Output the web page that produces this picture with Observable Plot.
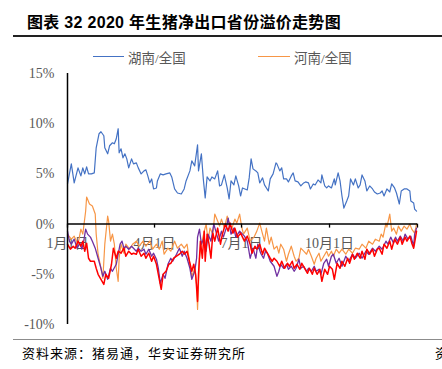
<!DOCTYPE html>
<html><head><meta charset="utf-8">
<script src="https://cdn.jsdelivr.net/npm/d3@7"></script>
<script src="https://cdn.jsdelivr.net/npm/@observablehq/plot@0.6"></script>
<style>
body{margin:0;background:#fff;}
#wrap{position:relative;width:442px;height:369px;overflow:hidden;font-family:"Noto Sans CJK SC",sans-serif;}
#chart{position:absolute;left:0;top:0;}
#title{position:absolute;left:27px;top:9px;font-size:16px;font-weight:bold;color:#000;white-space:nowrap;font-family:"Liberation Sans","Noto Sans CJK SC",sans-serif;letter-spacing:0.3px;}
#rule1{position:absolute;left:13px;top:35px;width:429px;height:1.5px;background:#222;}
#rule2{position:absolute;left:13px;top:339px;width:429px;height:1px;background:#8c8c8c;}
#source{position:absolute;left:22px;top:343px;font-size:13px;color:#000;white-space:nowrap;letter-spacing:1px;}
#cut{position:absolute;left:435px;top:343px;font-size:13px;color:#000;}
.legline{position:absolute;height:1.6px;top:55.5px;}
.legtxt{position:absolute;top:47px;font-size:13.5px;color:#595959;white-space:nowrap;font-family:"Liberation Serif","Noto Sans CJK SC",serif;}
</style>
</head><body>
<div id="wrap">
  <div id="chart"></div>
  <div id="title">图表 32 2020 年生猪净出口省份溢价走势图</div>
  <div id="rule1"></div>
  <div class="legline" style="left:93px;width:31px;background:#4472C4"></div>
  <div class="legtxt" style="left:128px">湖南/全国</div>
  <div class="legline" style="left:258px;width:32px;background:#F79646"></div>
  <div class="legtxt" style="left:294px">河南/全国</div>
  <div id="rule2"></div>
  <div id="source">资料来源：猪易通，华安证券研究所</div>
  <div id="cut">资</div>
</div>
<script>
// Day-of-year (2020) and premium in %
const seriesNames = ["湖南/全国", "河南/全国", "省份3/全国", "省份4/全国"];
const seriesColors = ["#4472C4", "#F79646", "#7030A0", "#FF0000"];
const yTicks = [-10, -5, 0, 5, 10, 15];
const xTickDates = ["2020-01-01", "2020-04-01", "2020-07-01", "2020-10-01", "2021-01-01"];
const xTickLabels = ["1月1日", "4月1日", "7月1日", "10月1日", ""];

const hunan = [[0,4.0],[4,6.0],[7,4.1],[11,5.6],[14,4.8],[16,5.6],[18,5.0],[20,5.7],[22,5.0],[25,5.0],[28,5.1],[30,7.6],[33,9.0],[35,9.2],[38,8.8],[39,7.6],[42,7.0],[44,7.8],[47,8.1],[49,8.0],[51,8.5],[53,9.5],[54,7.1],[56,7.5],[58,6.6],[60,7.0],[62,6.5],[64,5.6],[67,6.5],[69,6.0],[72,6.1],[74,5.6],[77,5.0],[80,5.3],[82,5.4],[84,4.8],[86,4.1],[88,4.5],[90,3.5],[93,3.6],[94,4.3],[97,5.0],[100,4.9],[103,5.0],[107,5.1],[109,4.7],[112,3.5],[115,3.1],[119,3.0],[122,3.5],[124,4.3],[128,5.3],[130,6.3],[133,5.8],[136,7.9],[137,5.3],[140,7.0],[142,4.5],[144,2.6],[146,4.7],[149,4.3],[151,4.7],[154,4.5],[157,5.3],[159,3.8],[161,3.9],[164,4.9],[167,3.6],[169,2.5],[171,4.3],[174,3.9],[176,4.8],[179,3.8],[181,2.8],[183,3.6],[188,3.4],[190,4.6],[192,6.5],[194,5.5],[197,5.3],[199,5.1],[201,4.1],[204,4.6],[206,3.9],[210,3.3],[212,4.5],[215,5.0],[218,6.1],[219,6.0],[222,5.3],[224,5.6],[226,4.5],[229,4.5],[231,4.2],[234,4.8],[236,5.1],[238,4.3],[241,4.2],[244,3.8],[247,4.1],[249,4.2],[252,4.1],[254,3.5],[257,4.0],[259,3.9],[262,4.4],[265,4.1],[266,4.9],[269,3.8],[271,3.6],[273,3.8],[276,3.6],[279,4.5],[280,3.9],[283,5.1],[285,4.3],[287,2.8],[289,1.6],[292,2.3],[294,2.8],[296,4.5],[299,3.9],[301,4.5],[304,3.6],[306,3.9],[308,4.9],[311,4.3],[313,3.3],[316,3.8],[319,3.5],[321,3.2],[324,3.0],[327,3.1],[329,3.3],[331,2.8],[334,3.5],[337,3.2],[339,4.0],[342,3.6],[344,3.1],[347,2.0],[349,3.3],[352,3.5],[355,3.5],[358,3.3],[359,2.3],[362,2.1],[363,1.5],[365,1.3]];

const henan = [[0,-1.0],[4,-1.5],[7,-1.2],[11,-2.0],[14,-0.5],[16,-1.0],[19,1.3],[20,2.7],[23,2.0],[26,1.8],[29,1.0],[30,-1.0],[32,-3.0],[35,-4.4],[37,-5.4],[39,-2.0],[42,0.8],[43,0.3],[45,-1.7],[47,-1.0],[49,-2.0],[51,-4.4],[53,-5.7],[54,-3.4],[56,-2.0],[59,-2.9],[61,-2.0],[65,-2.5],[68,-2.0],[72,-1.7],[75,-2.2],[79,-1.7],[82,-2.2],[86,-1.7],[89,-2.5],[93,-2.0],[96,-2.5],[99,-1.7],[101,-3.0],[105,-2.4],[108,-2.7],[112,-1.7],[115,-2.4],[119,-2.0],[122,-2.4],[125,-2.0],[128,-4.0],[130,-5.2],[133,-4.4],[135,-6.0],[136,-8.5],[138,-3.4],[140,-2.0],[143,-0.7],[145,0],[147,-1.7],[149,-0.4],[152,-1.0],[154,1.0],[157,0.3],[159,-0.2],[161,0.5],[164,-0.4],[167,0.8],[169,0.1],[172,-0.4],[175,0.5],[177,0.1],[180,1.0],[182,-0.2],[184,-1.0],[188,-0.4],[191,-1.7],[195,-1.3],[198,-0.7],[201,0.1],[204,-1.0],[206,-1.7],[208,-0.4],[211,-2.0],[213,-1.3],[216,-2.5],[219,-2.2],[221,-2.9],[223,-2.0],[226,-2.5],[229,-3.7],[231,-3.0],[234,-2.2],[237,-3.2],[239,-3.7],[242,-3.4],[244,-2.4],[247,-2.7],[250,-3.0],[252,-2.5],[255,-3.2],[258,-4.0],[260,-3.4],[263,-2.9],[265,-3.7],[268,-3.2],[271,-2.7],[273,-3.2],[276,-2.7],[278,-3.2],[281,-2.5],[284,-2.9],[287,-2.5],[291,-3.0],[294,-2.5],[298,-2.9],[301,-2.4],[305,-2.5],[308,-2.0],[312,-2.4],[315,-1.7],[319,-2.0],[322,-1.5],[326,-1.7],[328,-1.0],[330,-1.3],[333,0.1],[334,-0.3],[337,1.0],[339,-0.7],[341,-0.4],[344,-1.0],[346,-0.2],[349,-0.7],[352,-0.2],[355,-0.5],[358,0],[360,-0.5],[363,-0.9],[365,0]];

const purple = [[0,-0.7],[2,-1.7],[4,-2.0],[7,-1.5],[10,-2.4],[13,-1.9],[15,-2.5],[17,-1.7],[19,-0.5],[21,-1.0],[24,-1.3],[26,-1.7],[29,-2.4],[32,-3.4],[35,-4.4],[37,-5.2],[39,-4.7],[42,-5.5],[45,-4.4],[47,-4.7],[51,-4.0],[53,-3.0],[55,-2.0],[57,-1.7],[59,-2.4],[61,-2.2],[64,-2.5],[67,-2.2],[69,-2.4],[72,-2.7],[74,-2.4],[77,-2.7],[80,-2.5],[82,-3.0],[85,-2.5],[88,-3.2],[90,-2.9],[93,-3.5],[95,-4.4],[97,-5.9],[100,-5.0],[102,-5.4],[105,-4.0],[108,-3.4],[110,-3.7],[114,-3.0],[117,-2.4],[120,-3.2],[122,-2.7],[125,-3.4],[128,-4.4],[130,-5.5],[133,-4.7],[135,-3.4],[136,-1.3],[138,-0.5],[140,-2.0],[143,-1.3],[145,-2.7],[147,-1.0],[150,-1.7],[153,0],[156,-1.0],[158,-1.7],[161,-0.7],[163,-1.3],[166,-0.4],[168,0.6],[171,-1.0],[174,-0.4],[176,-1.3],[180,-0.7],[183,-1.0],[185,-1.2],[188,-1.7],[191,-3.4],[194,-2.4],[197,-3.4],[199,-2.0],[202,-2.9],[205,-3.4],[207,-2.7],[209,-2.9],[212,-3.7],[216,-4.2],[219,-5.2],[221,-4.7],[223,-4.0],[226,-4.4],[229,-4.0],[231,-4.5],[234,-4.2],[237,-4.7],[239,-4.4],[242,-3.5],[244,-4.4],[247,-4.2],[250,-4.7],[252,-4.4],[255,-4.7],[258,-4.2],[260,-4.7],[263,-4.5],[265,-5.0],[268,-3.9],[271,-3.5],[273,-4.2],[276,-3.2],[278,-3.0],[281,-3.9],[284,-3.4],[287,-4.2],[291,-3.2],[294,-3.7],[298,-3.0],[301,-3.4],[305,-2.9],[308,-3.4],[312,-2.7],[315,-3.0],[319,-2.4],[322,-2.7],[326,-2.2],[329,-2.5],[333,-1.7],[335,-2.0],[338,-1.3],[341,-1.9],[343,-1.3],[345,-1.7],[348,-1.2],[351,-1.7],[353,-1.0],[356,-1.5],[359,-1.2],[362,-2.2],[363,-1.0],[365,-0.4]];

const red = [[0,-2.0],[3,-2.5],[6,-2.2],[8,-2.4],[11,-1.7],[14,-2.2],[16,-1.7],[18,-2.7],[20,-1.9],[22,-3.4],[24,-3.7],[28,-3.7],[30,-4.4],[32,-5.0],[35,-5.5],[38,-6.0],[40,-5.0],[43,-5.4],[46,-4.0],[48,-2.4],[51,-3.4],[53,-2.7],[56,-2.9],[59,-2.4],[61,-3.2],[64,-2.7],[67,-3.0],[69,-2.9],[72,-3.0],[74,-2.5],[77,-3.2],[80,-2.9],[82,-3.4],[85,-2.9],[88,-3.7],[90,-3.2],[93,-4.0],[95,-5.0],[98,-6.5],[100,-5.0],[103,-4.7],[106,-4.0],[108,-3.9],[111,-3.4],[114,-3.2],[117,-3.0],[120,-2.7],[122,-3.0],[125,-2.7],[128,-3.9],[130,-4.7],[132,-4.0],[134,-5.0],[136,-7.7],[137,-5.0],[139,-1.7],[141,-3.4],[143,-0.7],[144,-3.7],[146,-1.0],[148,-2.0],[150,-3.4],[152,-0.9],[154,-1.7],[157,-0.4],[160,-2.0],[162,-1.0],[165,0],[168,-0.7],[170,0.1],[173,-0.9],[175,-0.4],[178,-1.3],[181,-0.9],[183,-1.3],[185,-1.7],[188,-1.2],[191,-2.0],[193,-2.9],[196,-2.2],[198,-2.5],[201,-2.0],[204,-3.0],[206,-2.4],[209,-2.9],[212,-3.4],[214,-3.7],[216,-3.4],[219,-3.7],[222,-4.2],[224,-3.7],[227,-4.4],[230,-3.9],[232,-4.2],[235,-3.7],[237,-4.4],[240,-4.0],[243,-4.5],[245,-3.9],[248,-4.4],[251,-4.9],[253,-4.4],[256,-5.0],[258,-4.4],[261,-5.0],[264,-4.5],[266,-5.7],[269,-4.5],[272,-5.0],[274,-4.2],[277,-4.5],[279,-5.5],[282,-3.9],[285,-4.4],[287,-3.7],[290,-4.2],[293,-3.4],[295,-3.9],[298,-3.0],[300,-3.5],[303,-2.9],[306,-3.4],[308,-2.7],[311,-3.5],[313,-2.5],[316,-3.0],[319,-2.5],[321,-3.2],[324,-2.5],[326,-2.4],[329,-3.0],[331,-2.0],[334,-2.4],[337,-1.7],[339,-2.5],[342,-1.5],[345,-2.0],[348,-1.3],[350,-2.0],[353,-1.3],[355,-1.7],[358,-1.2],[360,-1.9],[362,-2.4],[364,-1.3],[365,-0.7]];

const start = new Date(Date.UTC(2020, 0, 1));
const end = new Date(Date.UTC(2021, 0, 1));
const toRows = (arr, s) => arr.map(([d, v]) => ({date: d3.utcDay.offset(start, d), v, s}));
const allSeries = [hunan, henan, purple, red];
const rows = allSeries.map((a, i) => toRows(a, seriesNames[i]));
const ticks = xTickDates.map((t, i) => ({date: new Date(t + "T00:00:00Z"), label: xTickLabels[i]}));
const widths = [1.2, 1.2, 1.3, 1.5];

const chart = Plot.plot({
  width: 442, height: 369,
  marginLeft: 67, marginRight: 25, marginTop: 73, marginBottom: 45,
  x: {type: "utc", domain: [start, end], axis: null},
  y: {domain: [-10, 15], label: null},
  style: {fontFamily: '"Liberation Serif","Noto Sans CJK SC",serif', background: "transparent", color: "#595959"},
  marks: [
    Plot.axisY(yTicks, {tickSize: 0, tickPadding: 13, fontSize: 14, fill: "#595959", tickFormat: d => d + "%", label: null}),
    Plot.text(ticks, {x: "date", y: 0, dy: 19, text: "label", fontSize: 14, fill: "#595959"}),
    ...rows.map((r, i) => Plot.line(r, {x: "date", y: "v", stroke: seriesColors[i], strokeWidth: widths[i]})),
    Plot.ruleX([start], {stroke: "#000", strokeWidth: 1.5}),
    Plot.ruleY([0], {stroke: "#000", strokeWidth: 1.5}),
    Plot.ruleX(ticks, {x: "date", y1: 0, y2: 0, insetBottom: -4, stroke: "#000", strokeWidth: 1.3})
  ]
});
document.getElementById("chart").appendChild(chart);
</script>
</body></html>
